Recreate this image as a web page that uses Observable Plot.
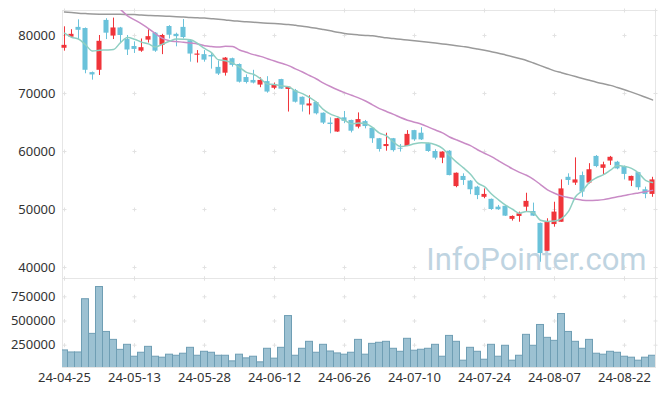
<!DOCTYPE html>
<html><head><meta charset="utf-8">
<script src="https://cdn.jsdelivr.net/npm/d3@7"></script>
<script src="https://cdn.jsdelivr.net/npm/@observablehq/plot@0.6"></script>
<style>
body{margin:0;background:#fff;}
#chart{position:relative;width:665px;height:396px;font-family:"Noto Sans",sans-serif;}
#chart svg{position:absolute;left:0;}
</style></head><body><div id="chart"></div>
<script>
const dates = ["24-04-25","24-04-26","24-04-29","24-04-30","24-05-02","24-05-03","24-05-07","24-05-08","24-05-09","24-05-10",
"24-05-13","24-05-14","24-05-16","24-05-17","24-05-20","24-05-21","24-05-22","24-05-23","24-05-24","24-05-27",
"24-05-28","24-05-29","24-05-30","24-05-31","24-06-03","24-06-04","24-06-05","24-06-07","24-06-10","24-06-11",
"24-06-12","24-06-13","24-06-14","24-06-17","24-06-18","24-06-19","24-06-20","24-06-21","24-06-24","24-06-25",
"24-06-26","24-06-27","24-06-28","24-07-01","24-07-02","24-07-03","24-07-04","24-07-05","24-07-08","24-07-09",
"24-07-10","24-07-11","24-07-12","24-07-15","24-07-16","24-07-17","24-07-18","24-07-19","24-07-22","24-07-23",
"24-07-24","24-07-25","24-07-26","24-07-29","24-07-30","24-07-31","24-08-01","24-08-02","24-08-05","24-08-06",
"24-08-07","24-08-08","24-08-09","24-08-12","24-08-13","24-08-14","24-08-16","24-08-19","24-08-20","24-08-21",
"24-08-22","24-08-23","24-08-26","24-08-27","24-08-28"];

const opens = [77800,79700,81400,81200,73600,74000,82600,79900,81300,79300,
78100,77300,79200,80400,78300,81550,80200,81400,79100,76600,
76700,76550,74500,73500,76000,75000,72750,72250,71450,72050,
70900,72400,70700,70500,69350,67850,68450,66600,64900,63350,
65800,65350,64200,65150,64000,62200,60850,62200,60550,60850,
63600,63150,61350,60000,58850,60050,53950,55700,54900,53850,
52100,51750,50400,50550,48300,48800,50400,49650,47600,42800,
47400,47800,55550,54550,55850,54550,59150,57100,58350,58150,
57400,54900,56350,53400,52600];
const highs = [81500,81000,82700,81300,73700,80000,82900,83000,81400,80000,
78900,79400,81000,80500,80200,81700,80400,82750,79250,77400,
77400,77050,75600,76200,76100,75100,73200,74000,72700,72900,
71800,72450,71150,70700,69400,69600,68550,66650,65800,65700,
66900,65400,66650,65350,64150,62250,63150,62250,61200,63600,
63650,64100,61400,60300,59950,60150,56300,56150,55000,54000,
53550,51800,50700,50700,48900,49550,52800,51100,47650,48400,
51250,55100,56150,58900,56450,57900,59300,58150,59150,58300,
57500,55750,56400,53850,55550];
const lows = [77300,79600,79200,73400,72300,73100,79300,79300,78600,76550,
76900,77100,78700,77100,76700,79400,78050,79400,75400,75250,
75400,74200,73100,73000,74550,71800,71650,71650,71000,70050,
70650,70700,66800,68350,66800,66300,66300,64650,63050,63300,
64800,63200,63900,63900,61400,59900,60050,59900,59900,60850,
61750,61900,59850,58550,57900,55800,53750,54150,52550,51700,
51850,49850,49850,48800,48000,47800,49550,48800,40900,42800,
46950,47800,54150,54150,52100,54400,57200,55850,57600,56850,
55100,53950,53300,51850,52100];
const closes = [78300,80200,80900,74000,73200,79000,80400,81300,80000,77500,
77600,77900,79800,77300,80000,80050,79800,79650,76800,76800,
75750,76300,73350,76100,74850,71950,71900,71800,72250,70250,
71550,70750,71100,68500,68000,68200,66500,64900,64650,65650,
65200,63500,65500,64300,62200,60350,61200,60150,60400,62950,
62000,62000,60000,58850,59900,55850,56250,55000,53400,52400,
52600,50000,49950,48850,48800,49250,51400,48850,42400,47800,
49550,53550,55000,55100,53000,56850,57400,57700,59000,57000,
56050,55700,53750,52600,55100];
const volumes = [196000,175000,175000,725000,367000,851000,387000,305000,202000,254000,
131000,172000,233000,131000,121000,152000,141000,162000,223000,141000,
182000,172000,141000,141000,83000,152000,114000,131000,73000,213000,
111000,223000,551000,141000,213000,285000,172000,254000,185000,165000,
152000,172000,305000,152000,264000,275000,285000,213000,182000,316000,
193000,203000,213000,254000,131000,346000,285000,90000,223000,182000,
100000,254000,131000,244000,90000,141000,357000,244000,459000,326000,
295000,572000,387000,285000,213000,305000,162000,152000,182000,172000,
131000,121000,90000,121000,141000];
const ma5 = [80400,79700,79400,78400,77320,77460,77500,77580,78780,79640,
79360,78860,78560,78020,78520,79010,79390,79360,79260,78620,
77760,77060,75800,75660,75270,74510,73630,73320,72550,71630,
71550,71320,71180,70430,69980,69310,68460,67220,66450,65980,
65380,64780,64900,64830,64140,63170,62710,61640,60860,61010,
61340,61500,61470,61160,60550,59320,58170,57170,56080,54580,
53930,52680,51670,50760,50040,49370,49650,49430,48140,47940,
48000,48430,49660,52200,53240,54700,55470,56010,56790,57590,
57430,57090,56300,55020,54640];
const ma20 = [null,null,null,null,null,null,null,85600,84500,83400,
82700,82000,81200,80300,79500,79100,78950,78850,78700,78550,
78250,78100,78000,78150,78100,77500,77100,76700,76400,76000,
75600,75200,74800,74250,73700,73100,72500,71800,71200,70650,
70150,69700,69250,68700,68050,67400,66900,66400,65850,65400,
65050,64700,64200,63700,63200,62500,62000,61500,61000,60300,
59700,59100,58400,57700,57000,56400,55900,55200,54300,53400,
52800,52350,52050,51800,51600,51550,51600,51700,51950,52200,
52400,52650,52850,53050,53300];
const ma60 = [84050,83950,83850,83780,83720,83680,83650,83650,83650,83620,
83600,83530,83460,83400,83350,83300,83250,83180,83100,83050,
83000,82900,82800,82680,82550,82450,82350,82280,82200,82120,
82050,81980,81900,81750,81600,81420,81250,81030,80800,80550,
80350,80200,80100,80020,79950,79780,79600,79470,79350,79220,
79100,78980,78850,78700,78550,78400,78250,78080,77900,77680,
77450,77200,76950,76650,76350,76030,75700,75250,74800,74350,
73900,73580,73250,72920,72600,72270,71950,71680,71400,71030,
70650,70230,69800,69350,68900];

const priceTicks = [40000,50000,60000,70000,80000];
const volumeTicks = [250000,500000,750000];
const dateTickIndex = [0,10,20,30,40,50,60,70,80];
const watermarkText = ["InfoPointer.com"];

const candles = dates.map((d, i) => ({
  i, date: d, open: opens[i], high: highs[i], low: lows[i], close: closes[i],
  volume: volumes[i], ma5: ma5[i], ma20: ma20[i], ma60: ma60[i]
}));

const upColor = "#f0343a", downColor = "#6ac2da";
const candleColor = d => d.close >= d.open ? upColor : downColor;
const xDomain = [-0.2857, 84.4286];
const priceDomain = [38100, 84310];
const volumeDomain = [19600, 939000];
const font = "'Noto Sans', sans-serif";

const priceCrosses = [];
for (const x of [...dateTickIndex, xDomain[1]]) for (const y of [priceDomain[1], ...priceTicks, priceDomain[0]]) priceCrosses.push({x, y});
const volumeCrosses = [];
for (const x of [...dateTickIndex, xDomain[1]]) for (const y of [volumeDomain[1], ...volumeTicks]) volumeCrosses.push({x, y});

const common = {
  width: 665, marginLeft: 62, marginRight: 10,
  x: {domain: xDomain, axis: null},
  style: {fontFamily: font, fontSize: "13px", color: "#333", background: "transparent", overflow: "visible"}
};

const price = Plot.plot({
  ...common,
  height: 278, marginTop: 10, marginBottom: 0,
  y: {domain: priceDomain, axis: null},
  marks: [
    Plot.frame({stroke: "#e6e6e6"}),
    Plot.dot(priceCrosses, {x: "x", y: "y", symbol: "plus", r: 1.4, stroke: "#e2e2e2", strokeWidth: 1}),
    Plot.axisY({ticks: priceTicks, tickSize: 0, tickPadding: 7, tickFormat: d => String(d), fill: "#333", fontSize: 13, label: null}),
    Plot.text(watermarkText, {text: d => d, frameAnchor: "bottom-right", textAnchor: "end", lineAnchor: "bottom",
      dx: -9, dy: -9, fontSize: 31, fontFamily: "Roboto, sans-serif", fill: "#bfd4e1"}),
    Plot.ruleX(candles, {x: "i", y1: "low", y2: "high", stroke: candleColor, strokeWidth: 1}),
    Plot.rect(candles, {x1: d => d.i - 0.36, x2: d => d.i + 0.36, y1: "open", y2: "close", fill: candleColor}),
    Plot.line(candles, {x: "i", y: "ma60", stroke: "#9a9a9a", strokeWidth: 1.5, curve: "monotone-x", clip: true}),
    Plot.line(candles, {x: "i", y: "ma20", stroke: "#c98bc6", strokeWidth: 1.5, curve: "monotone-x", clip: true}),
    Plot.line(candles, {x: "i", y: "ma5", stroke: "#8fcfc2", strokeWidth: 1.5, curve: "monotone-x", clip: true})
  ]
});
price.style.top = "0px";

const vol = Plot.plot({
  ...common,
  height: 118, marginTop: 0, marginBottom: 29,
  y: {domain: volumeDomain, axis: null},
  marks: [
    Plot.frame({stroke: "#e6e6e6"}),
    Plot.dot(volumeCrosses, {x: "x", y: "y", symbol: "plus", r: 1.4, stroke: "#e2e2e2", strokeWidth: 1}),
    Plot.axisY({ticks: volumeTicks, tickSize: 0, tickPadding: 7, tickFormat: d => String(d), fill: "#333", fontSize: 13, label: null}),
    Plot.axisX({ticks: dateTickIndex, tickSize: 0, tickPadding: 5, tickFormat: i => dates[i], fill: "#333", fontSize: 13, label: null}),
    Plot.rect(candles, {x1: d => d.i - 0.5, x2: d => d.i + 0.5, y1: 0, y2: "volume",
      fill: "#9cc1d2", stroke: "#6f9eb4", strokeWidth: 1, clip: true})
  ]
});
vol.style.top = "278px";

const root = document.getElementById("chart");
root.appendChild(price);
root.appendChild(vol);
</script></body></html>
